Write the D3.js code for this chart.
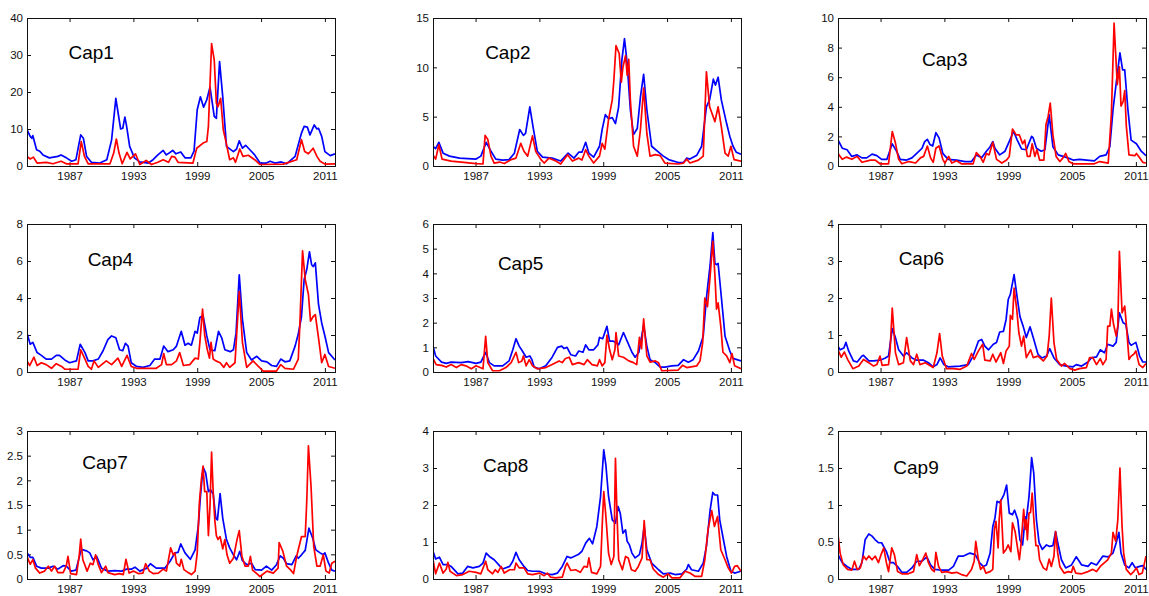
<!DOCTYPE html>
<html>
<head>
<meta charset="utf-8">
<script src="https://cdn.jsdelivr.net/npm/d3@7"></script>
<style>
  body { margin: 0; background: #fff; }
  text { font-family: Arial, "Liberation Sans", sans-serif; }
</style>
</head>
<body>
<div id="chart"></div>
<script>
const W = 1149, H = 596;

// panel names, y extents and y ticks
const names = ["Cap1", "Cap2", "Cap3", "Cap4", "Cap5", "Cap6", "Cap7", "Cap8", "Cap9"];
const yMax = [40, 15, 10, 8, 6, 4, 3, 4, 2];
const yTicks = [
  [0, 10, 20, 30, 40],
  [0, 5, 10, 15],
  [0, 2, 4, 6, 8, 10],
  [0, 2, 4, 6, 8],
  [0, 1, 2, 3, 4, 5, 6],
  [0, 1, 2, 3, 4],
  [0, 0.5, 1, 1.5, 2, 2.5, 3],
  [0, 1, 2, 3, 4],
  [0, 0.5, 1, 1.5, 2]
];
const xTicks = [1987, 1993, 1999, 2005, 2011];
const xDomain = [1983, 2011.95];
// label anchor in data units [year, value]
const labelAt = [[1986.9, 30.8], [1987.9, 11.5], [1990.9, 7.2], [1988.7, 6.1], [1989.1, 4.4],
                 [1988.7, 3.08], [1988.2, 2.37], [1987.7, 3.08], [1988.2, 1.51]];

// series: [year, value]
const cap1Blue = [[1983,9.8],[1983.3,8],[1983.45,7.5],[1983.55,8.2],[1983.9,4.4],[1984.2,4],[1984.5,3],[1985.1,2.2],[1985.9,2.6],[1986.2,3],[1986.7,2.2],[1987.2,1.3],[1987.6,1.7],[1988.05,8.4],[1988.3,7.5],[1988.6,2.6],[1989.05,1],[1989.85,0.8],[1990.5,1.7],[1990.95,7],[1991.35,18.3],[1991.8,10],[1992,10.2],[1992.2,13.2],[1992.35,11],[1992.65,5.3],[1993.1,2.2],[1993.6,1.1],[1994.4,0.8],[1994.85,1.7],[1995.3,3],[1995.8,4.2],[1996.1,3],[1996.7,4.2],[1997,3.3],[1997.45,3.8],[1997.85,2.2],[1998.4,2.2],[1998.7,4],[1999,15.2],[1999.3,18.7],[1999.6,15.9],[1999.9,17.9],[2000.2,21.3],[2000.6,13.4],[2000.8,12.9],[2001.1,28.2],[2001.4,18.7],[2001.75,5.3],[2002.4,3.9],[2002.7,4.6],[2002.95,6.8],[2003.25,4.8],[2003.55,5.6],[2003.95,4.4],[2004.4,3],[2004.9,0.8],[2005.5,0.8],[2005.85,1.3],[2006.3,0.8],[2006.9,1.1],[2007.4,0.6],[2008.2,2.6],[2008.8,8.9],[2009.05,10.7],[2009.35,10.5],[2009.6,8.4],[2010,11.1],[2010.25,10],[2010.4,10.2],[2010.7,8],[2011,3.9],[2011.5,2.8],[2011.95,3.3]];
const cap1Red = [[1983,2.6],[1983.3,1.9],[1983.6,2.4],[1983.95,0.8],[1984.8,1],[1985.45,0.6],[1986.2,1.3],[1986.7,0.6],[1987.8,0.6],[1988.1,6.6],[1988.4,2.6],[1988.75,0.6],[1990.8,0.6],[1991.15,3.5],[1991.4,7.3],[1991.65,3.5],[1991.95,0.6],[1992.4,3.7],[1992.7,1.9],[1993.2,3.3],[1993.6,0.4],[1994.2,1.5],[1994.7,0.4],[1995.3,1],[1995.8,1.7],[1996.3,1],[1996.6,2.6],[1996.9,2.4],[1997.2,1],[1998.6,0.8],[1998.95,4.8],[1999.55,6.2],[1999.9,6.6],[2000.05,10.7],[2000.35,33.1],[2000.6,28.6],[2000.8,17],[2000.95,16],[2001.2,18.3],[2001.45,9.8],[2001.7,6.6],[2002.05,1.7],[2002.4,2.2],[2002.6,1],[2003,4.6],[2003.3,2.6],[2003.8,2.9],[2004.4,1.7],[2004.9,0.4],[2007.1,0.5],[2008.35,1.7],[2008.8,7.1],[2009.1,3.9],[2009.45,3.3],[2009.9,4.8],[2010.25,2.6],[2010.55,1.3],[2011,0.5],[2011.95,0.6]];

const cap2Blue = [[1983,2],[1983.25,1.75],[1983.55,2.4],[1983.95,1.3],[1984.55,1],[1985.5,0.8],[1987.05,0.7],[1987.5,1],[1988,2.4],[1988.45,1.5],[1988.9,0.7],[1989.55,0.6],[1990.15,0.65],[1990.65,1.3],[1991.15,3.7],[1991.5,3.1],[1991.7,3.3],[1992.1,6],[1992.4,4],[1992.8,1.5],[1993.3,0.9],[1994.2,0.8],[1995,0.5],[1995.7,1.3],[1996.25,0.8],[1996.7,1.4],[1997,1.4],[1997.35,2.4],[1997.65,1.3],[1998.1,0.9],[1998.65,2],[1998.9,3.7],[1999.2,5.2],[1999.5,4.8],[1999.85,4.9],[2000.15,4.3],[2000.45,6],[2000.75,10.7],[2001,12.9],[2001.25,10.4],[2001.55,5.7],[2001.85,3.2],[2002.2,3.8],[2002.5,7],[2002.8,9.3],[2003.1,5.7],[2003.55,2],[2004.2,1.4],[2004.65,1],[2005.15,0.65],[2006.05,0.35],[2006.55,0.35],[2006.85,0.8],[2007.15,0.7],[2007.8,1.1],[2008.25,2],[2008.7,6],[2009,6.7],[2009.35,8.8],[2009.55,8.2],[2009.8,9],[2010.1,6.7],[2010.6,4.3],[2010.9,3],[2011.2,2],[2011.5,1.4],[2011.95,1.2]];
const cap2Red = [[1983,1.1],[1983.25,0.7],[1983.55,2.15],[1983.85,0.7],[1984.7,0.5],[1985.65,0.4],[1987.05,0.25],[1987.7,0.2],[1987.9,3.1],[1988.15,2.7],[1988.45,1],[1988.75,0.3],[1989.25,0.4],[1989.7,0.25],[1990.35,0.65],[1990.8,0.8],[1991.25,2.3],[1991.55,1.5],[1991.9,1],[1992.35,3.05],[1992.65,1.5],[1993.15,0.65],[1993.45,0.3],[1993.9,0.8],[1994.55,0.5],[1995,0.2],[1995.65,1.15],[1996.1,0.5],[1996.7,0.8],[1997,0.6],[1997.35,1.65],[1997.65,1],[1998.1,0.3],[1998.65,1],[1998.9,2.3],[1999.15,1.7],[1999.5,4.7],[1999.85,6.7],[2000,8.7],[2000.2,12.2],[2000.5,11.4],[2000.7,8.5],[2000.85,10],[2001.1,11.2],[2001.25,9.2],[2001.4,10.8],[2001.55,6.7],[2001.85,2],[2002.2,1],[2002.5,3.7],[2002.8,7.9],[2003.1,3.3],[2003.4,1],[2003.9,1.15],[2004.35,1.05],[2004.8,0.3],[2006.05,0.2],[2006.55,0.3],[2006.85,0.7],[2007.15,0.3],[2007.95,0.6],[2008.4,1],[2008.7,9.55],[2009,6],[2009.5,4.5],[2009.8,6],[2010.1,4],[2010.45,1.3],[2010.75,1],[2011,2],[2011.3,0.65],[2011.95,0.5]];

const cap3Blue = [[1983,1.77],[1983.4,1.2],[1983.85,1.1],[1984.3,0.65],[1984.8,0.75],[1985.25,0.55],[1985.7,0.55],[1986.2,0.8],[1986.65,0.7],[1987.1,0.45],[1987.6,0.45],[1988.1,1.5],[1988.5,1],[1988.85,0.45],[1989.45,0.4],[1989.95,0.55],[1990.4,0.85],[1990.9,1.2],[1991.15,1.65],[1991.4,1.8],[1991.65,1.45],[1991.9,1.35],[1992.2,2.25],[1992.5,1.9],[1992.85,0.85],[1993.35,0.45],[1994.15,0.4],[1994.95,0.3],[1995.55,0.3],[1996,0.75],[1996.5,0.55],[1996.95,1],[1997.3,1.3],[1997.55,1.65],[1997.75,1.2],[1998.2,0.75],[1998.7,1],[1999.15,1.75],[1999.5,2.35],[1999.85,1.75],[2000.25,1.15],[2000.7,1.1],[2001.2,2],[2001.35,1.9],[2001.65,1.2],[2002.1,1],[2002.45,1.1],[2002.85,3.45],[2003.2,1.3],[2003.7,0.75],[2004.15,0.65],[2004.6,0.55],[2005.1,0.4],[2005.7,0.45],[2006.35,0.4],[2007.1,0.35],[2007.6,0.65],[2008.2,0.75],[2008.55,1.3],[2008.85,3.8],[2009.15,5.6],[2009.5,7.65],[2009.75,6.5],[2009.95,6.5],[2010.25,3.8],[2010.55,1.75],[2011.05,1.5],[2011.5,1],[2011.95,0.7]];
const cap3Red = [[1983,0.85],[1983.4,0.45],[1983.8,0.6],[1984.3,0.45],[1984.8,0.65],[1985.25,0.25],[1986.05,0.4],[1986.5,0.4],[1986.95,0.15],[1987.75,0.15],[1988.1,2.33],[1988.4,1.55],[1988.7,0.45],[1989,0.15],[1989.65,0.3],[1990.3,0.2],[1990.75,0.55],[1991.05,0.65],[1991.4,1.35],[1991.7,0.55],[1991.95,0.25],[1992.2,1.2],[1992.5,1.35],[1992.85,0.45],[1993.05,0.2],[1993.4,0.65],[1993.7,0.2],[1994.15,0.35],[1994.6,0.15],[1995.7,0.15],[1996,0.9],[1996.35,0.65],[1996.65,0.25],[1996.95,0.85],[1997.2,0.75],[1997.55,1.6],[1997.9,0.45],[1998.4,0.2],[1998.85,0.4],[1999.1,0.65],[1999.4,2.5],[1999.75,2.1],[2000.05,2.1],[2000.35,1.5],[2000.55,1.75],[2000.8,0.65],[2001.05,0.65],[2001.25,1.5],[2001.5,0.65],[2001.7,1.1],[2001.95,0.4],[2002.35,0.4],[2002.55,2.8],[2002.75,3.35],[2002.95,4.25],[2003.2,2.1],[2003.5,0.65],[2003.85,0.3],[2004.15,0.55],[2004.4,0.85],[2004.7,0.3],[2005.1,0.15],[2007.1,0.15],[2007.6,0.3],[2008.4,0.2],[2008.7,3.55],[2008.95,9.65],[2009.25,5.5],[2009.45,6.7],[2009.6,4.05],[2009.8,4.35],[2009.95,5.1],[2010.1,2.7],[2010.35,0.75],[2010.9,0.7],[2011.05,0.85],[2011.35,0.55],[2011.65,0.25],[2011.95,0.2]];

const cap4Blue = [[1983,2.1],[1983.3,1.5],[1983.55,1.6],[1983.95,1.05],[1984.35,0.9],[1984.8,0.7],[1985.3,0.7],[1985.75,0.9],[1986.05,0.9],[1986.55,0.65],[1987,0.5],[1987.65,0.6],[1988,1.5],[1988.45,1.05],[1988.75,0.6],[1989.2,0.6],[1989.7,0.7],[1990.15,1.15],[1990.6,1.75],[1990.95,1.95],[1991.35,1.85],[1991.7,1.2],[1992,1.15],[1992.25,1.55],[1992.5,1.4],[1992.8,0.5],[1993.3,0.3],[1993.9,0.25],[1994.55,0.35],[1995,0.7],[1995.5,0.7],[1995.85,1.4],[1996.25,1.1],[1996.75,1.2],[1997.05,1.4],[1997.5,2.2],[1997.85,1.45],[1998.15,1.55],[1998.45,1.45],[1998.8,2.2],[1999,2.1],[1999.25,2.95],[1999.55,3.05],[1999.9,1.95],[2000.2,1.2],[2000.65,1.15],[2001,2.2],[2001.3,1.85],[2001.6,1.2],[2002.1,1.1],[2002.4,1.2],[2002.65,2.1],[2002.95,5.25],[2003.25,2.85],[2003.65,1.05],[2004.1,0.65],[2004.6,0.85],[2005.05,0.6],[2005.55,0.55],[2006,0.35],[2006.45,0.3],[2006.85,0.7],[2007.25,0.55],[2007.7,0.6],[2008.2,1.4],[2008.5,2.05],[2008.8,3],[2009.05,5],[2009.3,5.55],[2009.55,6.5],[2009.75,5.8],[2009.9,5.7],[2010.1,5.9],[2010.4,3.65],[2010.7,2.65],[2011,1.95],[2011.35,1.05],[2011.95,0.65]];
const cap4Red = [[1983,0.6],[1983.25,0.35],[1983.65,0.8],[1983.95,0.35],[1984.35,0.5],[1984.8,0.4],[1985.3,0.2],[1985.75,0.45],[1986.25,0.3],[1986.55,0.15],[1987.8,0.15],[1988.05,1.2],[1988.45,0.7],[1988.75,0.3],[1989.05,0.15],[1989.3,0.6],[1989.7,0.25],[1990.45,0.6],[1990.95,0.4],[1991.55,0.75],[1991.9,0.3],[1992.4,0.9],[1992.8,0.3],[1993.3,0.2],[1994.25,0.2],[1995.15,0.2],[1995.65,0.4],[1995.85,1],[1996.1,0.4],[1996.6,0.4],[1997.05,0.6],[1997.35,1.05],[1997.7,0.35],[1998.3,0.4],[1998.8,0.75],[1999.1,0.7],[1999.25,1.6],[1999.5,3.4],[1999.7,2],[1999.95,1.2],[2000.15,0.75],[2000.3,1.6],[2000.5,0.7],[2000.75,0.6],[2001.15,0.5],[2001.5,0.25],[2001.75,0.5],[2002.05,0.25],[2002.55,0.5],[2002.95,4.35],[2003.25,1.6],[2003.65,0.25],[2004.25,0.6],[2004.75,0.3],[2005.2,0.05],[2006.45,0.05],[2006.85,0.4],[2007.25,0.2],[2008.05,0.15],[2008.5,0.7],[2008.65,2.6],[2008.9,6.55],[2009.15,5],[2009.45,4.2],[2009.65,2.75],[2009.9,3],[2010.1,3.1],[2010.4,1.85],[2010.7,0.5],[2011,0.95],[2011.35,0.3],[2011.95,0.2]];

const cap5Blue = [[1983,1.05],[1983.25,0.65],[1983.8,0.4],[1984.25,0.35],[1984.7,0.4],[1985.65,0.38],[1986.3,0.42],[1987.05,0.35],[1987.5,0.4],[1987.95,0.8],[1988.3,0.38],[1988.75,0.25],[1989.55,0.25],[1990.15,0.45],[1990.5,0.9],[1990.8,1.35],[1991.1,1.05],[1991.4,0.85],[1991.75,0.6],[1992.1,0.65],[1992.3,0.5],[1992.5,0.2],[1993,0.13],[1993.6,0.25],[1994.2,0.6],[1994.7,1],[1995.1,1.05],[1995.3,0.95],[1995.6,1],[1995.95,0.7],[1996.4,0.65],[1996.7,0.85],[1997.1,0.8],[1997.35,1.1],[1997.65,0.9],[1998.1,0.9],[1998.5,1.1],[1998.65,1.4],[1998.95,1.35],[1999.35,1.85],[1999.6,1.25],[1999.95,1.25],[2000.45,1.1],[2000.9,1.6],[2001.25,1.25],[2001.7,0.8],[2002,0.6],[2002.35,0.8],[2002.8,1.9],[2003.1,1.05],[2003.4,0.5],[2003.9,0.38],[2004.35,0.2],[2004.8,0.2],[2005.45,0.25],[2006.05,0.27],[2006.55,0.5],[2007,0.4],[2007.45,0.5],[2007.95,0.85],[2008.4,1.45],[2008.7,3],[2009.05,4.35],[2009.3,5.65],[2009.5,4.4],[2009.65,4.35],[2009.8,4.4],[2010.1,3.05],[2010.45,1.45],[2010.9,0.85],[2011.2,0.55],[2011.95,0.45]];
const cap5Red = [[1983,0.55],[1983.3,0.3],[1983.8,0.27],[1984.25,0.2],[1984.7,0.3],[1985.2,0.18],[1985.65,0.3],[1986.1,0.25],[1986.6,0.13],[1987.05,0.25],[1987.7,0.13],[1987.95,1.45],[1988.15,0.38],[1988.6,0.05],[1989.25,0.05],[1989.85,0.18],[1990.35,0.38],[1990.8,0.8],[1991.05,0.38],[1991.35,0.45],[1991.5,0.65],[1991.75,0.25],[1992.05,0.5],[1992.35,0.25],[1992.8,0.13],[1993.6,0.18],[1994.2,0.3],[1994.85,0.45],[1995.15,0.38],[1995.45,0.55],[1995.8,0.6],[1996.1,0.3],[1996.7,0.38],[1997.2,0.3],[1997.5,0.5],[1997.95,0.3],[1998.45,0.25],[1998.65,0.5],[1998.9,0.25],[1999.15,0.38],[1999.35,1.5],[1999.6,0.9],[1999.85,0.5],[2000.1,0.9],[2000.2,1.6],[2000.45,0.65],[2000.9,0.6],[2001.4,0.45],[2001.85,0.38],[2002.15,0.3],[2002.4,1.4],[2002.6,0.95],[2002.8,2.15],[2003.1,0.65],[2003.4,0.4],[2003.9,0.45],[2004.2,0.38],[2004.5,0.05],[2006.05,0.08],[2006.45,0.27],[2006.85,0.18],[2007.8,0.25],[2008.1,0.45],[2008.35,1.2],[2008.55,3],[2008.8,2.65],[2009.05,3.9],[2009.3,5.3],[2009.5,3.9],[2009.65,2.55],[2009.8,2.8],[2010.05,1.85],[2010.25,0.8],[2010.6,0.65],[2010.9,0.38],[2011.1,0.75],[2011.35,0.25],[2011.95,0.13]];

const cap6Blue = [[1983,0.7],[1983.2,0.6],[1983.55,0.65],[1983.75,0.8],[1984,0.57],[1984.45,0.3],[1984.8,0.27],[1985.25,0.43],[1985.4,0.45],[1985.9,0.3],[1986.35,0.3],[1986.95,0.32],[1987.45,0.38],[1987.75,0.43],[1988.1,1.17],[1988.4,0.93],[1988.7,0.6],[1989.15,0.43],[1989.45,0.52],[1989.95,0.38],[1990.4,0.32],[1991.05,0.32],[1991.5,0.25],[1991.95,0.14],[1992.3,0.2],[1992.6,0.38],[1992.95,0.2],[1993.35,0.14],[1994.45,0.16],[1995.25,0.2],[1995.7,0.43],[1996.2,0.84],[1996.5,0.88],[1996.8,0.7],[1997.15,0.6],[1997.6,0.75],[1997.9,0.8],[1998.2,1.08],[1998.55,1.1],[1998.8,1.42],[1999,1.96],[1999.2,2.1],[1999.55,2.63],[1999.8,2.1],[2000.1,1.5],[2000.4,1.24],[2000.7,0.93],[2001.05,1.22],[2001.35,0.93],[2001.8,0.48],[2002.15,0.38],[2002.6,0.43],[2002.9,0.63],[2003.3,0.38],[2003.85,0.2],[2004.45,0.16],[2005.1,0.14],[2005.4,0.2],[2005.9,0.16],[2006.5,0.27],[2006.8,0.38],[2007.3,0.41],[2007.65,0.6],[2008.05,0.52],[2008.35,0.75],[2008.85,0.7],[2009.15,0.8],[2009.45,1.6],[2009.8,1.33],[2010.05,1.29],[2010.35,0.8],[2010.55,0.72],[2011,0.8],[2011.35,0.43],[2011.65,0.27],[2011.95,0.27]];
const cap6Red = [[1983,0.6],[1983.3,0.4],[1983.6,0.54],[1983.9,0.34],[1984.4,0.09],[1984.95,0.16],[1985.4,0.34],[1985.9,0.25],[1986.35,0.16],[1986.65,0.2],[1986.95,0.43],[1987.15,0.18],[1987.75,0.2],[1987.9,0.6],[1988.1,1.73],[1988.4,0.52],[1988.7,0.2],[1989.15,0.25],[1989.45,0.93],[1989.8,0.3],[1990.1,0.2],[1990.4,0.48],[1990.7,0.2],[1991.2,0.25],[1991.6,0.18],[1991.95,0.12],[1992.3,0.52],[1992.55,1.04],[1992.8,0.43],[1993.2,0.09],[1993.85,0.09],[1994.45,0.07],[1995.1,0.16],[1995.55,0.5],[1995.8,0.34],[1996.2,0.57],[1996.6,0.75],[1996.8,0.32],[1997.3,0.3],[1997.55,0.48],[1997.85,0.27],[1998.3,0.52],[1998.55,0.23],[1998.8,0.57],[1999.1,0.7],[1999.2,1.53],[1999.4,1.42],[1999.55,2.27],[1999.8,1.69],[2000,1.06],[2000.25,0.7],[2000.45,0.97],[2000.7,0.39],[2001.1,0.6],[2001.35,0.39],[2001.8,0.43],[2002.3,0.3],[2002.65,0.43],[2002.85,0.97],[2003.05,2],[2003.3,0.79],[2003.55,0.34],[2004,0.16],[2004.3,0.23],[2004.8,0.09],[2005.25,0.05],[2005.7,0.09],[2006.35,0.12],[2006.65,0.39],[2006.95,0.39],[2007.3,0.2],[2007.65,0.36],[2007.9,0.2],[2008.2,0.34],[2008.35,1.24],[2008.55,1.24],[2008.7,1.7],[2008.9,1.29],[2009.15,0.97],[2009.3,1.24],[2009.45,3.26],[2009.7,1.6],[2009.95,1.78],[2010.1,1.29],[2010.35,0.34],[2010.55,0.43],[2010.8,0.48],[2011,0.57],[2011.3,0.2],[2011.65,0.12],[2011.95,0.23]];

const cap7Blue = [[1983,0.53],[1983.3,0.44],[1983.55,0.44],[1983.9,0.26],[1984.35,0.22],[1985,0.22],[1985.45,0.26],[1985.9,0.2],[1986.4,0.27],[1986.7,0.26],[1987.15,0.16],[1987.6,0.18],[1988.1,0.6],[1988.6,0.57],[1988.9,0.53],[1989.2,0.39],[1989.55,0.46],[1990,0.22],[1990.6,0.16],[1991.25,0.17],[1991.9,0.16],[1992.35,0.2],[1992.8,0.2],[1993.15,0.24],[1993.6,0.16],[1994.25,0.22],[1994.6,0.31],[1995.15,0.22],[1995.95,0.22],[1996.45,0.36],[1996.9,0.53],[1997.2,0.54],[1997.45,0.71],[1997.85,0.53],[1998.35,0.4],[1998.8,0.59],[1999.1,1.07],[1999.3,1.67],[1999.55,2.27],[1999.8,2.14],[2000.05,1.77],[2000.25,1.81],[2000.5,1.72],[2000.75,1.23],[2000.9,1.2],[2001.15,1.73],[2001.4,1.23],[2001.75,0.8],[2002.05,0.63],[2002.4,0.49],[2002.7,0.39],[2003,0.56],[2003.25,0.37],[2003.65,0.29],[2004.1,0.32],[2004.45,0.19],[2005.05,0.18],[2005.5,0.26],[2006,0.18],[2006.45,0.29],[2006.8,0.47],[2007.1,0.42],[2007.4,0.31],[2007.9,0.29],[2008.3,0.47],[2008.5,0.42],[2008.8,0.49],[2009.15,0.58],[2009.5,1.03],[2009.85,0.83],[2010.15,0.59],[2010.55,0.53],[2010.85,0.49],[2011,0.53],[2011.35,0.32],[2011.65,0.18],[2011.95,0.16]];
const cap7Red = [[1983,0.46],[1983.3,0.3],[1983.55,0.39],[1983.8,0.22],[1984.2,0.12],[1984.65,0.16],[1985,0.26],[1985.3,0.16],[1985.6,0.26],[1985.9,0.13],[1986.4,0.13],[1986.7,0.27],[1986.85,0.46],[1987.1,0.11],[1987.65,0.09],[1987.9,0.46],[1988.05,0.81],[1988.25,0.39],[1988.65,0.16],[1988.95,0.32],[1989.2,0.29],[1989.45,0.49],[1989.7,0.29],[1990,0.13],[1990.4,0.26],[1990.6,0.13],[1991.25,0.09],[1991.7,0.11],[1992.05,0.09],[1992.3,0.4],[1992.6,0.12],[1993,0.16],[1993.45,0.11],[1993.9,0.12],[1994.15,0.31],[1994.5,0.16],[1994.85,0.11],[1995.35,0.12],[1995.8,0.2],[1996.1,0.16],[1996.5,0.63],[1996.75,0.49],[1996.9,0.53],[1997.05,0.32],[1997.35,0.26],[1997.5,0.4],[1997.75,0.19],[1998.15,0.13],[1998.45,0.09],[1998.8,0.16],[1999,0.53],[1999.2,1.54],[1999.4,2.04],[1999.55,2.29],[1999.7,1.77],[1999.9,1.77],[2000.05,0.88],[2000.2,1.47],[2000.35,2.57],[2000.5,1.77],[2000.65,1.2],[2000.8,0.88],[2000.95,0.8],[2001.15,0.86],[2001.4,0.61],[2001.6,0.8],[2001.8,0.49],[2002.05,0.32],[2002.4,0.42],[2002.75,0.81],[2002.95,0.98],[2003.2,0.46],[2003.5,0.26],[2003.8,0.26],[2004,0.46],[2004.2,0.18],[2004.6,0.11],[2004.9,0.05],[2005.55,0.16],[2006.15,0.12],[2006.6,0.22],[2006.7,0.74],[2007.05,0.56],[2007.4,0.26],[2007.75,0.19],[2008.05,0.11],[2008.35,0.46],[2008.8,0.86],[2009.15,0.86],[2009.3,1.6],[2009.45,2.7],[2009.7,1.87],[2009.95,0.66],[2010.25,0.26],[2010.55,0.26],[2010.85,0.49],[2011.1,0.16],[2011.4,0.12],[2011.65,0.32],[2011.95,0.36]];

const cap8Blue = [[1983,0.75],[1983.25,0.54],[1983.6,0.59],[1983.95,0.39],[1984.4,0.39],[1984.7,0.34],[1985.35,0.14],[1985.8,0.16],[1986.25,0.34],[1986.75,0.3],[1987.35,0.34],[1987.7,0.43],[1988,0.7],[1988.3,0.61],[1988.75,0.52],[1989.25,0.36],[1989.55,0.27],[1990.2,0.34],[1990.5,0.48],[1990.8,0.72],[1991.1,0.52],[1991.55,0.34],[1991.9,0.23],[1992.35,0.21],[1993,0.21],[1993.6,0.14],[1994.2,0.12],[1994.7,0.16],[1995.15,0.34],[1995.6,0.61],[1995.95,0.57],[1996.4,0.63],[1996.65,0.66],[1997,0.75],[1997.35,0.97],[1997.7,1.1],[1998,0.95],[1998.4,1.42],[1998.75,2.23],[1999.05,3.49],[1999.25,3.08],[1999.5,2.23],[1999.85,1.6],[2000.15,1.51],[2000.4,1.96],[2000.6,1.78],[2000.85,1.24],[2001.1,1.33],[2001.25,1.02],[2001.45,0.93],[2001.7,0.7],[2002,0.57],[2002.4,0.66],[2002.65,0.97],[2002.85,1.42],[2003.1,0.79],[2003.55,0.43],[2004.2,0.25],[2004.65,0.14],[2005.3,0.16],[2005.75,0.12],[2006.4,0.14],[2006.85,0.27],[2007,0.39],[2007.3,0.25],[2007.95,0.21],[2008.4,0.43],[2008.7,0.88],[2009.05,1.87],[2009.3,2.34],[2009.5,2.27],[2009.75,2.27],[2009.95,1.6],[2010.3,1.06],[2010.6,0.61],[2011,0.21],[2011.35,0.16],[2011.95,0.21]];
const cap8Red = [[1983,0.52],[1983.25,0.14],[1983.6,0.43],[1983.95,0.16],[1984.25,0.27],[1984.4,0.45],[1984.6,0.21],[1985.2,0.09],[1985.8,0.12],[1986.4,0.21],[1987.05,0.18],[1987.5,0.14],[1987.95,0.48],[1988.15,0.25],[1988.6,0.14],[1988.85,0.25],[1989.1,0.18],[1989.4,0.34],[1989.7,0.16],[1990.2,0.25],[1990.65,0.25],[1990.8,0.43],[1991.1,0.3],[1991.55,0.3],[1991.9,0.14],[1992.35,0.12],[1993,0.16],[1993.45,0.09],[1993.75,0.16],[1994.05,0.05],[1994.5,0.03],[1995.15,0.05],[1995.45,0.34],[1995.6,0.43],[1995.95,0.23],[1996.4,0.25],[1996.85,0.18],[1997.2,0.34],[1997.5,0.32],[1997.65,0.57],[1997.9,0.18],[1998.4,0.14],[1998.75,0.34],[1998.9,1.42],[1999.05,2.36],[1999.25,1.69],[1999.5,0.7],[1999.75,0.39],[2000,0.61],[2000.15,3.26],[2000.3,1.69],[2000.45,0.52],[2000.8,0.25],[2001.1,0.61],[2001.35,0.57],[2001.65,0.25],[2002,0.21],[2002.3,0.34],[2002.65,0.57],[2002.85,1.58],[2003.1,0.52],[2003.4,0.52],[2003.7,0.27],[2004.2,0.12],[2004.65,0.05],[2005.1,0.14],[2005.45,0.03],[2006.2,0.03],[2006.7,0.21],[2007.15,0.16],[2007.65,0.07],[2008.25,0.07],[2008.55,0.52],[2008.85,1.33],[2009.2,1.85],[2009.45,1.42],[2009.75,1.69],[2010.05,0.79],[2010.45,0.52],[2010.75,0.3],[2011.05,0.16],[2011.35,0.34],[2011.6,0.36],[2011.95,0.21]];

const cap9Blue = [[1983,0.33],[1983.4,0.22],[1983.85,0.17],[1984.3,0.13],[1984.95,0.13],[1985.25,0.22],[1985.55,0.53],[1985.9,0.61],[1986.2,0.58],[1986.5,0.53],[1986.8,0.49],[1987.1,0.49],[1987.55,0.37],[1987.9,0.22],[1988.2,0.22],[1988.6,0.17],[1989,0.09],[1989.45,0.09],[1989.95,0.15],[1990.4,0.24],[1990.9,0.24],[1991.35,0.3],[1991.7,0.19],[1992.1,0.13],[1992.75,0.12],[1993.4,0.12],[1993.85,0.17],[1994.3,0.31],[1994.8,0.31],[1995.4,0.35],[1995.9,0.33],[1996.3,0.22],[1996.65,0.17],[1996.95,0.19],[1997.3,0.35],[1997.55,0.71],[1997.75,0.82],[1997.95,1.05],[1998.2,1.03],[1998.35,1.07],[1998.6,1.14],[1998.85,1.27],[1999.1,0.89],[1999.4,0.87],[1999.6,0.93],[1999.9,0.8],[2000.1,0.53],[2000.35,0.46],[2000.6,0.84],[2000.7,0.8],[2000.95,1.11],[2001.1,1.41],[2001.2,1.64],[2001.4,1.43],[2001.65,0.8],[2001.9,0.49],[2002.2,0.4],[2002.6,0.46],[2002.9,0.44],[2003.2,0.45],[2003.45,0.64],[2003.7,0.46],[2004,0.26],[2004.4,0.15],[2004.95,0.19],[2005.4,0.3],[2005.9,0.19],[2006.5,0.17],[2006.8,0.22],[2007.3,0.19],[2007.9,0.31],[2008.4,0.3],[2008.85,0.35],[2009.15,0.49],[2009.4,0.63],[2009.6,0.35],[2009.95,0.19],[2010.35,0.15],[2010.65,0.22],[2010.95,0.15],[2011.35,0.17],[2011.65,0.18],[2011.95,0.13]];
const cap9Red = [[1983,0.6],[1983.2,0.35],[1983.5,0.19],[1983.9,0.13],[1984.3,0.12],[1984.55,0.24],[1984.8,0.13],[1985.1,0.15],[1985.4,0.31],[1985.65,0.26],[1985.9,0.31],[1986.2,0.26],[1986.5,0.31],[1986.8,0.22],[1987.05,0.33],[1987.3,0.42],[1987.55,0.22],[1987.75,0.1],[1988.05,0.42],[1988.3,0.33],[1988.6,0.1],[1989,0.07],[1989.6,0.07],[1990.1,0.1],[1990.4,0.33],[1990.65,0.18],[1990.95,0.26],[1991.25,0.35],[1991.5,0.22],[1991.8,0.13],[1992.05,0.1],[1992.2,0.36],[1992.45,0.17],[1992.75,0.09],[1993.2,0.1],[1993.7,0.08],[1994.15,0.09],[1994.6,0.06],[1995.1,0.04],[1995.55,0.13],[1995.8,0.24],[1995.95,0.51],[1996.2,0.26],[1996.4,0.13],[1996.65,0.17],[1996.9,0.08],[1997.3,0.1],[1997.55,0.13],[1997.7,0.67],[1997.85,0.78],[1998.05,0.42],[1998.15,0.8],[1998.3,1.07],[1998.55,0.35],[1998.8,0.4],[1999,0.46],[1999.25,0.37],[1999.4,0.76],[1999.65,0.64],[1999.8,0.49],[2000.05,0.26],[2000.2,0.46],[2000.45,0.94],[2000.6,0.67],[2000.7,0.8],[2000.8,0.53],[2000.95,0.89],[2001.1,0.9],[2001.25,1.16],[2001.4,0.82],[2001.6,0.45],[2001.8,0.45],[2001.95,0.26],[2002.3,0.15],[2002.6,0.12],[2002.85,0.27],[2003.05,0.17],[2003.3,0.31],[2003.45,0.64],[2003.65,0.35],[2003.85,0.17],[2004.25,0.08],[2004.65,0.1],[2004.95,0.09],[2005.1,0.17],[2005.35,0.08],[2005.9,0.07],[2006.5,0.1],[2006.95,0.13],[2007.3,0.1],[2007.65,0.17],[2008.05,0.22],[2008.35,0.26],[2008.7,0.35],[2008.85,0.63],[2009.1,0.51],[2009.3,0.8],[2009.5,1.5],[2009.7,0.71],[2009.85,0.35],[2010.1,0.13],[2010.5,0.06],[2010.8,0.1],[2011.05,0.15],[2011.3,0.06],[2011.6,0.08],[2011.95,0.31]];

const blueSeries = [cap1Blue, cap2Blue, cap3Blue, cap4Blue, cap5Blue, cap6Blue, cap7Blue, cap8Blue, cap9Blue];
const redSeries = [cap1Red, cap2Red, cap3Red, cap4Red, cap5Red, cap6Red, cap7Red, cap8Red, cap9Red];

// layout
const colLeft = [27, 433, 838];
const rowTop = [18, 224, 431];
const pw = 308, ph = 148;
const tickLen = 4;

const svg = d3.select("#chart").append("svg")
    .attr("width", W)
    .attr("height", H)
    .attr("viewBox", [0, 0, W, H]);

names.forEach((name, i) => {
    const g = svg.append("g")
        .attr("transform", "translate(" + colLeft[i % 3] + "," + rowTop[Math.floor(i / 3)] + ")");

    const x = d3.scaleLinear().domain(xDomain).range([0, pw]);
    const y = d3.scaleLinear().domain([0, yMax[i]]).range([ph, 0]);

    const clipId = "clip" + i;
    g.append("clipPath").attr("id", clipId)
        .append("rect").attr("width", pw).attr("height", ph);

    const fmt = d3.format("~g");

    // axes: inward ticks on all four sides
    const bottom = g.append("g").attr("transform", "translate(0," + ph + ")")
        .call(d3.axisBottom(x).tickValues(xTicks).tickFormat(d3.format("d")).tickSizeInner(-tickLen).tickSizeOuter(0).tickPadding(6));
    const top = g.append("g")
        .call(d3.axisTop(x).tickValues(xTicks).tickFormat("").tickSizeInner(-tickLen).tickSizeOuter(0));
    const left = g.append("g")
        .call(d3.axisLeft(y).tickValues(yTicks[i]).tickFormat(fmt).tickSizeInner(-tickLen).tickSizeOuter(0).tickPadding(4));
    const right = g.append("g").attr("transform", "translate(" + pw + ",0)")
        .call(d3.axisRight(y).tickValues(yTicks[i]).tickFormat("").tickSizeInner(-tickLen).tickSizeOuter(0));

    [bottom, top, left, right].forEach(a => {
        a.select(".domain").remove();
        a.selectAll("line").attr("stroke", "#111");
        a.selectAll("text").attr("font-size", "11.5px").attr("fill", "#111")
            .attr("font-family", "Arial, 'Liberation Sans', sans-serif");
    });

    const line = d3.line()
        .x(d => x(d[0]))
        .y(d => y(d[1]));

    const lines = g.append("g").attr("clip-path", "url(#" + clipId + ")");
    lines.append("path")
        .datum(blueSeries[i])
        .attr("fill", "none")
        .attr("stroke", "#0000ff")
        .attr("stroke-width", 1.7)
        .attr("stroke-linejoin", "round")
        .attr("d", line);
    lines.append("path")
        .datum(redSeries[i])
        .attr("fill", "none")
        .attr("stroke", "#ff0000")
        .attr("stroke-width", 1.7)
        .attr("stroke-linejoin", "round")
        .attr("d", line);

    // box
    g.append("rect")
        .attr("x", 0.5).attr("y", 0.5)
        .attr("width", pw).attr("height", ph)
        .attr("fill", "none")
        .attr("stroke", "#111")
        .attr("stroke-width", 1);

    g.append("text")
        .attr("x", x(labelAt[i][0]))
        .attr("y", y(labelAt[i][1]))
        .attr("dy", "0.35em")
        .attr("font-size", "19px")
        .attr("fill", "#000")
        .text(name);
});
</script>
</body>
</html>
